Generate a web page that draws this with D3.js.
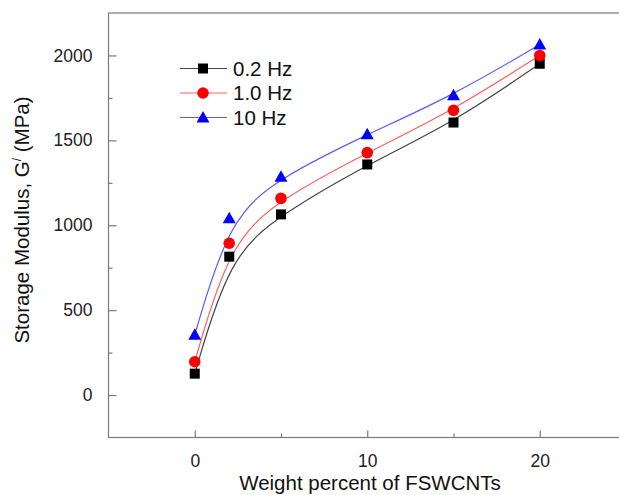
<!DOCTYPE html>
<html>
<head>
<meta charset="utf-8">
<script src="https://cdn.jsdelivr.net/npm/d3@7"></script>
<style>
  html, body { margin: 0; padding: 0; background: #fff; }
  svg { display: block; }
  text { font-family: "Liberation Sans", Arial, sans-serif; }
</style>
</head>
<body>
<div id="chart"></div>
<script>
// ---- data ----
const weights = [0, 2, 5, 10, 15, 20];
const hz02 = [126, 815, 1064, 1358, 1605, 1951];
const hz10 = [196, 894, 1158, 1428, 1677, 2000];
const hz100 = [355, 1041, 1285, 1536, 1765, 2065];
const seriesNames = ["0.2 Hz", "1.0 Hz", "10 Hz"];
const xMajorTicks = [0, 10, 20];
const xMinorTicks = [5, 15];
const yMajorTicks = [0, 500, 1000, 1500, 2000];
const yMinorTicks = [250, 750, 1250, 1750];

const W = 619, H = 495;
const mLeft = 108.5, mTop = 13, mBottom = 437.5, mRight = 626;

const svg = d3.select("#chart").append("svg")
  .attr("width", W).attr("height", H);

const x = d3.scaleLinear().domain([-5, 25]).range([mLeft, mRight]);
const y = d3.scaleLinear().domain([-250, 2250]).range([mBottom, mTop]);

const series = [
  { name: seriesNames[0], values: hz02, color: "#000", line: "#444", shape: "square" },
  { name: seriesNames[1], values: hz10, color: "#f00", line: "#ff6060", shape: "circle" },
  { name: seriesNames[2], values: hz100, color: "#00f", line: "#5a5aff", shape: "triangle" }
];

// frame
const frameColor = "#7a7a7a";
svg.append("rect")
  .attr("x", mLeft).attr("y", mTop)
  .attr("width", mRight - mLeft).attr("height", mBottom - mTop)
  .attr("fill", "none").attr("stroke", frameColor).attr("stroke-width", 1.2);

// axes (ticks inward)
const tickColor = "#7a7a7a";
const xAxis = svg.append("g").attr("transform", `translate(0,${mBottom})`)
  .call(d3.axisBottom(x).tickValues(xMajorTicks).tickSize(-7).tickPadding(17).tickFormat(d3.format("d")));
const xMinor = svg.append("g").attr("transform", `translate(0,${mBottom})`)
  .call(d3.axisBottom(x).tickValues(xMinorTicks).tickSize(-4).tickFormat(""));
const yAxis = svg.append("g").attr("transform", `translate(${mLeft},0)`)
  .call(d3.axisLeft(y).tickValues(yMajorTicks).tickSize(-8).tickPadding(16).tickFormat(d3.format("d")));
const yMinor = svg.append("g").attr("transform", `translate(${mLeft},0)`)
  .call(d3.axisLeft(y).tickValues(yMinorTicks).tickSize(-4).tickFormat(""));

[xAxis, xMinor, yAxis, yMinor].forEach(g => {
  g.select(".domain").remove();
  g.selectAll(".tick line").attr("stroke", tickColor).attr("stroke-width", 1.2);
  g.selectAll(".tick text")
    .attr("fill", "#222")
    .style("font-family", '"Liberation Sans", Arial, sans-serif')
    .style("font-size", "17.5px");
});

// axis titles
svg.append("text")
  .attr("x", 370).attr("y", 490)
  .attr("text-anchor", "middle")
  .attr("fill", "#111")
  .style("font-size", "20.5px")
  .text("Weight percent of FSWCNTs");

const yt = svg.append("text")
  .attr("transform", "translate(29,220) rotate(-90)")
  .attr("text-anchor", "middle")
  .attr("fill", "#111")
  .style("font-size", "20.5px");
yt.append("tspan").text("Storage Modulus, G");
yt.append("tspan").attr("dy", -8).style("font-size", "12px").text("/");
yt.append("tspan").attr("dy", 8).text(" (MPa)");

// curves
const line = d3.line()
  .x((d, i) => x(weights[i]))
  .y(d => y(d))
  .curve(d3.curveBasis);

series.forEach(s => {
  svg.append("path")
    .datum(s.values)
    .attr("d", line)
    .attr("fill", "none")
    .attr("stroke", s.line)
    .attr("stroke-width", 1.2);
});

// markers
function drawMarker(g, shape, cx, cy, color) {
  if (shape === "square") {
    g.append("rect").attr("x", cx - 5).attr("y", cy - 5)
      .attr("width", 10).attr("height", 10).attr("fill", color);
  } else if (shape === "circle") {
    g.append("circle").attr("cx", cx).attr("cy", cy).attr("r", 5.8).attr("fill", color);
  } else {
    g.append("path")
      .attr("d", `M${cx},${cy - 6.5}L${cx + 6.5},${cy + 5}L${cx - 6.5},${cy + 5}Z`)
      .attr("fill", color);
  }
}

series.forEach(s => {
  const g = svg.append("g");
  s.values.forEach((v, i) => drawMarker(g, s.shape, x(weights[i]), y(v), s.color));
});

// legend
const legY = [68.5, 93, 117.5];
series.forEach((s, i) => {
  const g = svg.append("g");
  g.append("line").attr("x1", 180).attr("x2", 227)
    .attr("y1", legY[i]).attr("y2", legY[i])
    .attr("stroke", s.line).attr("stroke-width", 1.2);
  drawMarker(g, s.shape, 203, legY[i], s.color);
  g.append("text").attr("x", 233).attr("y", legY[i] + 7)
    .attr("fill", "#111")
    .style("font-size", "20.5px")
    .text(s.name);
});
</script>
</body>
</html>
